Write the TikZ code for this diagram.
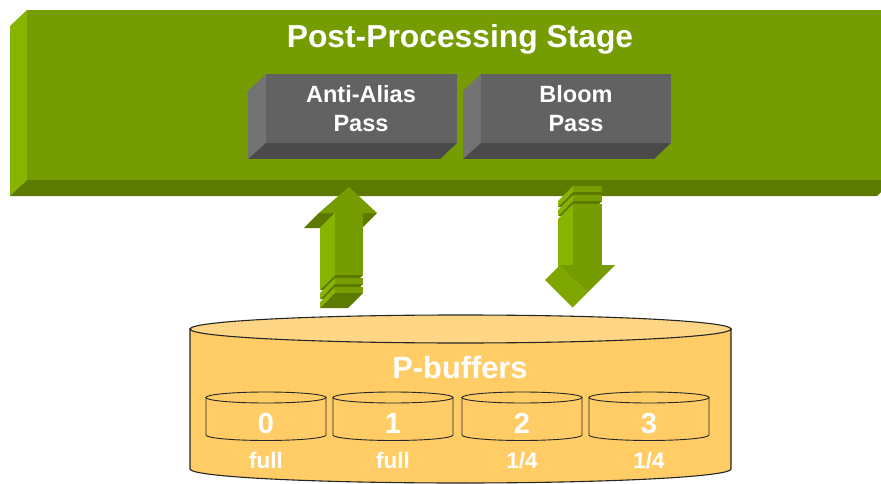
\documentclass[tikz,border=0pt]{standalone}
\usepackage{fontspec}
\setmainfont{Liberation Sans}
\definecolor{gfront}{HTML}{759C00}
\definecolor{gleft}{HTML}{86B400}
\definecolor{gbot}{HTML}{5C7A00}
\definecolor{gmid}{HTML}{7EA600}
\definecolor{kfront}{HTML}{626262}
\definecolor{kleft}{HTML}{737373}
\definecolor{kbot}{HTML}{4A4A4A}
\definecolor{cylbody}{HTML}{FFCC66}
\definecolor{cyltop}{HTML}{FFD685}
\tikzset{
  wtext/.style={text=white,font=\bfseries,inner sep=0pt},
  cylline/.style={draw=black!85,line width=0.9pt},
}
% slab: x1 x2 ytop ybot  (extrusion -15,+15)
\newcommand{\myslab}[4]{%
  \fill[gleft] (#1,#3) -- (#1,#4) -- ({#1-15},{#4+15}) -- ({#1-15},{#3+15}) -- cycle;
  \fill[gbot] (#1,#4) -- (#2,#4) -- ({#2-15},{#4+15}) -- ({#1-15},{#4+15}) -- cycle;
  \fill[gfront] (#1,#3) rectangle (#2,#4);
}
\newcommand{\smallcyl}[2]{%
  \path[cylline,fill=cylbody] ({#1-60},397.5) -- ({#1-60},435) arc[start angle=180,end angle=0,x radius=60,y radius=5.5] -- ({#1+60},397.5) -- cycle;
  \path[cylline,fill=cylbody] (#1,397.5) ellipse[x radius=60,y radius=5.5];
  \node[wtext,anchor=base,font=\bfseries\fontsize{29}{31}\selectfont] (d#1) at (#1,433) {#2};
}
\begin{document}
\begin{tikzpicture}[x=1pt,y=-1pt]
\useasboundingbox (0,0) rectangle (881,484);
% green stage box
\fill[gleft] (10,26) -- (27,10) -- (27,180) -- (10,196) -- cycle;
\fill[gbot] (10,196) -- (27,180) -- (881,180) -- (881,192) -- (877,196) -- cycle;
\fill[gfront] (27,10) rectangle (881,180);
\node[wtext,anchor=base,font=\bfseries\fontsize{31.8}{34}\selectfont] (title) at (460,48) {Post-Processing Stage};
% gray pass boxes
\fill[kleft] (248,91) -- (266,74) -- (266,143) -- (248,159) -- cycle;
\fill[kbot] (248,159) -- (266,143) -- (457,143) -- (440,159) -- cycle;
\fill[kfront] (266,74) rectangle (457,143);
\node[wtext,anchor=base,font=\bfseries\fontsize{23.5}{26}\selectfont] (aa1) at (361,103) {Anti-Alias};
\node[wtext,anchor=base,font=\bfseries\fontsize{23.5}{26}\selectfont] (aa2) at (361,131.5) {Pass};
\fill[kleft] (463,91) -- (481,74) -- (481,143) -- (463,159) -- cycle;
\fill[kbot] (463,159) -- (481,143) -- (671,143) -- (654,159) -- cycle;
\fill[kfront] (481,74) rectangle (671,143);
\node[wtext,anchor=base,font=\bfseries\fontsize{23.5}{26}\selectfont] (bl1) at (576,103) {Bloom};
\node[wtext,anchor=base,font=\bfseries\fontsize{23.5}{26}\selectfont] (bl2) at (576,131.5) {Pass};
% up arrow
\fill[gmid] (349,187) -- (319,213) -- (304,228) -- (334,202) -- cycle;
\fill[gbot] (319,213) -- (335,213) -- (320,228) -- (304,228) -- cycle;
\fill[gbot] (363,213) -- (377,213) -- (362,228) -- (348,228) -- cycle;
\myslab{335}{363}{213}{275}
\myslab{335}{363}{278}{284}
\myslab{335}{363}{287}{293}
\fill[gfront] (319,213) -- (349,187) -- (377,213) -- cycle;
% down arrow
\myslab{573}{602}{186}{192}
\myslab{573}{602}{195}{201}
\myslab{573}{602}{204}{265}
\fill[gmid] (560,265) -- (587.5,292.5) -- (572.5,307.5) -- (545,280) -- cycle;
\fill[gfront] (560,265) -- (615,265) -- (587.5,292.5) -- cycle;
% big cylinder
\path[draw=black!85,line width=1.1pt,fill=cylbody] (190,329) -- (190,469) arc[start angle=180,end angle=0,x radius=270.5,y radius=14] -- (731,329) -- cycle;
\path[draw=black!85,line width=1.1pt,fill=cyltop] (460.5,329) ellipse[x radius=270.5,y radius=14];
\node[wtext,anchor=base,font=\bfseries\fontsize{30.8}{32}\selectfont] (pb) at (460,378) {P-buffers};
% small cylinders
\smallcyl{266}{0}
\smallcyl{393}{1}
\smallcyl{522}{2}
\smallcyl{649}{3}
\node[wtext,anchor=base,font=\bfseries\fontsize{22.5}{24}\selectfont] (l0) at (266,468) {full};
\node[wtext,anchor=base,font=\bfseries\fontsize{22.5}{24}\selectfont] (l1) at (393,468) {full};
\node[wtext,anchor=base,font=\bfseries\fontsize{22.5}{24}\selectfont] (l2) at (522,468) {1/4};
\node[wtext,anchor=base,font=\bfseries\fontsize{22.5}{24}\selectfont] (l3) at (649,468) {1/4};
\end{tikzpicture}
\end{document}
